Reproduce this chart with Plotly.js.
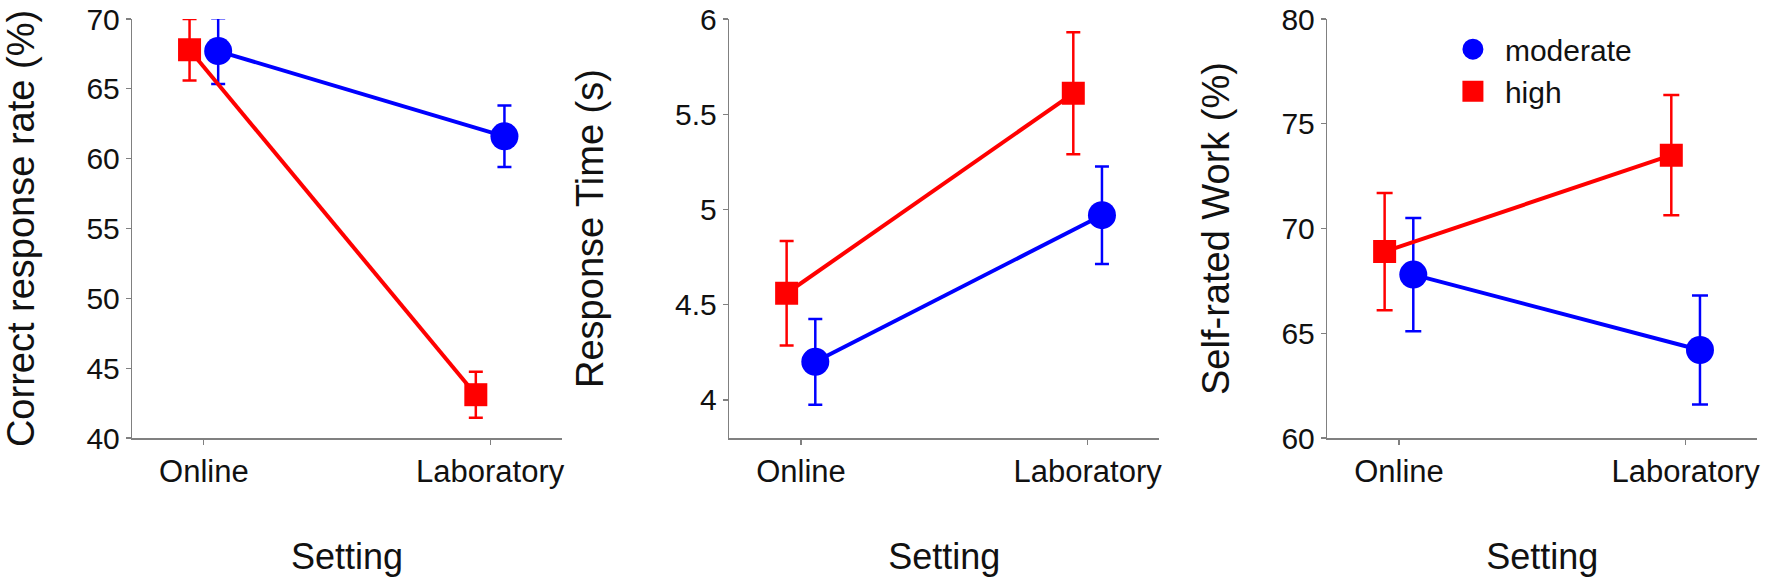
<!DOCTYPE html>
<html>
<head>
<meta charset="utf-8">
<script src="https://cdn.plot.ly/plotly-3.0.1.min.js"></script>
<style>html,body{margin:0;padding:0;background:#fff;}#chart{width:1768px;height:578px;}</style>
</head>
<body>
<div id="chart"></div>
<script>
// ---- data ----
const settings = ["Online", "Laboratory"];
const groups = ["moderate", "high"];

const correctModerate = [67.7, 61.6];
const correctModerateErr = [2.35, 2.2];
const correctHigh = [67.8, 43.1];
const correctHighErr = [2.2, 1.65];

const rtModerate = [4.20, 4.97];
const rtModerateErr = [0.225, 0.256];
const rtHigh = [4.56, 5.61];
const rtHighErr = [0.274, 0.32];

const workModerate = [67.8, 64.2];
const workModerateErr = [2.7, 2.6];
const workHigh = [68.9, 73.5];
const workHighErr = [2.8, 2.87];

const panelTitles = ["Correct response rate (%)", "Response Time (s)", "Self-rated Work (%)"];
const xTitle = "Setting";
const yTicks1 = [40, 45, 50, 55, 60, 65, 70];
const yTicks2 = [4, 4.5, 5, 5.5, 6];
const yTickText2 = ["4", "4.5", "5", "5.5", "6"];
const yTicks3 = [60, 65, 70, 75, 80];

// ---- styling ----
const BLUE = "#0000ff", RED = "#ff0000";
const FONT = "Liberation Sans, Arial, Helvetica, sans-serif";
const dodge = 0.05;
const xMod = settings.map((s, i) => i + dodge);
const xHigh = settings.map((s, i) => i - dodge);

function tr(x, y, err, color, symbol, size, name, xa, ya, capw) {
  return {
    type: "scatter", mode: "lines+markers", x: x, y: y, name: name,
    xaxis: xa, yaxis: ya, showlegend: false,
    line: {color: color, width: 4},
    marker: {color: color, symbol: symbol, size: size},
    error_y: {type: "data", array: err, visible: true, color: color, thickness: 2.5, width: capw},
    hoverinfo: "x+y"
  };
}

const data = [
  tr(xMod, correctModerate, correctModerateErr, BLUE, "circle", 28, groups[0], "x", "y", 7),
  tr(xHigh, correctHigh, correctHighErr, RED, "square", 23, groups[1], "x", "y", 7),
  tr(xMod, rtModerate, rtModerateErr, BLUE, "circle", 28, groups[0], "x2", "y2", 7),
  tr(xHigh, rtHigh, rtHighErr, RED, "square", 23, groups[1], "x2", "y2", 7),
  tr(xMod, workModerate, workModerateErr, BLUE, "circle", 28, groups[0], "x3", "y3", 8),
  tr(xHigh, workHigh, workHighErr, RED, "square", 23, groups[1], "x3", "y3", 8)
];
// legend entries: markers only
data.push({type: "scatter", mode: "markers", x: [null], y: [null], xaxis: "x3", yaxis: "y3",
  name: groups[0], showlegend: true,
  marker: {color: BLUE, symbol: "circle", size: 28, line: {color: BLUE, width: 5}}});
data.push({type: "scatter", mode: "markers", x: [null], y: [null], xaxis: "x3", yaxis: "y3",
  name: groups[1], showlegend: true,
  marker: {color: RED, symbol: "square", size: 23, line: {color: RED, width: 5}}});

function xax(domain, anchor) {
  return {
    domain: domain, anchor: anchor, range: [-0.25, 1.25],
    tickmode: "array", tickvals: settings.map((s, i) => i), ticktext: settings,
    showline: true, linecolor: "#808080", linewidth: 1.5, mirror: false,
    ticks: "outside", ticklen: 5, tickwidth: 1.2, tickcolor: "#808080",
    showgrid: false, zeroline: false, ticklabeloverflow: "allow",
    tickfont: {family: FONT, size: 31, color: "#111"},
    title: {text: xTitle, font: {family: FONT, size: 36, color: "#111"}, standoff: 56}
  };
}
function yax(anchor, range, tickvals, ticktext, title, standoff) {
  const a = {
    domain: [0, 1], anchor: anchor, range: range,
    tickmode: "array", tickvals: tickvals,
    showline: true, linecolor: "#808080", linewidth: 1.5, mirror: false,
    ticks: "outside", ticklen: 5, tickwidth: 1.2, tickcolor: "#808080",
    showgrid: false, zeroline: false, ticklabeloverflow: "allow",
    tickfont: {family: FONT, size: 30, color: "#111"},
    title: {text: title, font: {family: FONT, size: 38, color: "#111"}, standoff: standoff}
  };
  if (ticktext) a.ticktext = ticktext;
  return a;
}

const layout = {
  width: 1768, height: 578,
  margin: {l: 0, r: 0, t: 19, b: 140, pad: 0},
  paper_bgcolor: "#fff", plot_bgcolor: "#fff",
  showlegend: true,
  legend: {x: 0.815, y: 0.99, xanchor: "left", yanchor: "top",
    font: {family: FONT, size: 30, color: "#111"}, bgcolor: "rgba(0,0,0,0)",
    itemwidth: 54, tracegroupgap: 0},
  xaxis: xax([0.07483, 0.31770], "y"),
  xaxis2: xax([0.41250, 0.65571], "y2"),
  xaxis3: xax([0.75073, 0.99395], "y3"),
  yaxis: yax("x", [40, 70], yTicks1, null, panelTitles[0], 48),
  yaxis2: yax("x2", [3.8, 6], yTicks2, yTickText2, panelTitles[1], 60),
  yaxis3: yax("x3", [60, 80], yTicks3, null, panelTitles[2], 40)
};

Plotly.newPlot("chart", data, layout, {displayModeBar: false, staticPlot: true});
</script>
</body>
</html>
